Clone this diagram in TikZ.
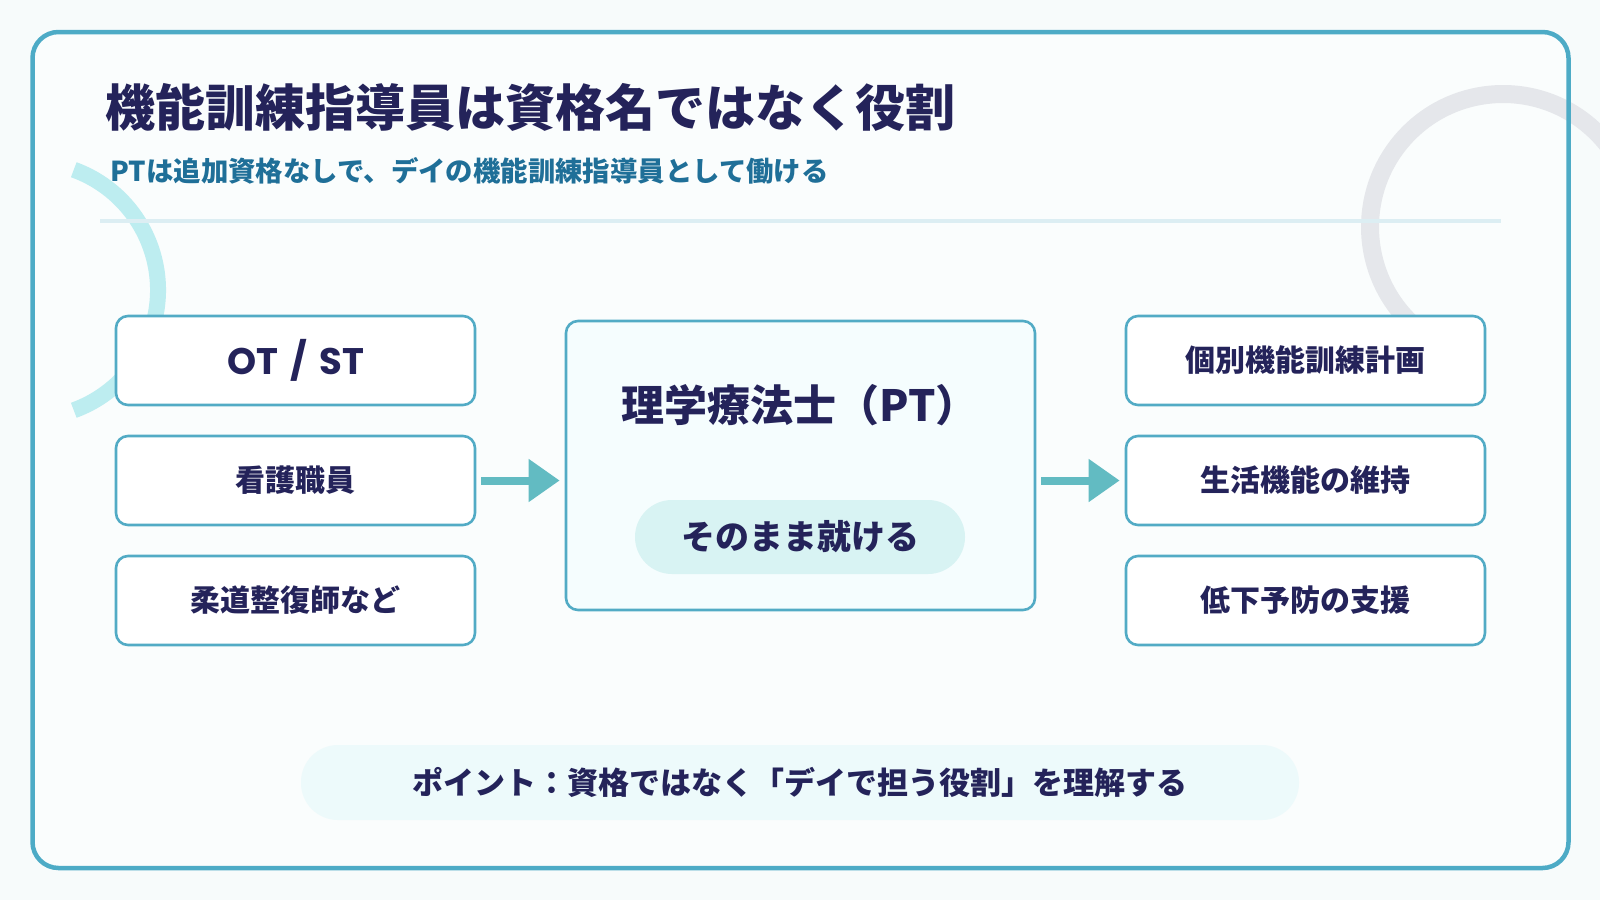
\documentclass[tikz,border=0pt]{standalone}
\usepackage{fontspec}
\setmainfont{Noto Sans CJK JP}[BoldFont={Noto Sans CJK JP Black}]
\newfontfamily\pop{Poppins}
\usetikzlibrary{arrows.meta}
\definecolor{bgc}{HTML}{F7FBFB}
\definecolor{framefill}{HTML}{FAFDFD}
\definecolor{framec}{HTML}{4DABC6}
\definecolor{navy}{HTML}{24235A}
\definecolor{subc}{HTML}{1F6F98}
\definecolor{sepc}{HTML}{DCEEF3}
\definecolor{ringl}{HTML}{BDEDF0}
\definecolor{ringr}{HTML}{E5E7EB}
\definecolor{boxc}{HTML}{52ABC5}
\definecolor{arrowc}{HTML}{62BBC2}
\definecolor{cfill}{HTML}{F5FDFE}
\definecolor{pillc}{HTML}{D8F3F3}
\definecolor{notec}{HTML}{EDFAFB}
\tikzset{
  box/.style={draw=boxc, line width=1.3pt, fill=white, rounded corners=6pt,
    minimum width=179.5pt, minimum height=44.5pt, inner sep=0pt,
    text=navy, font=\bfseries\fontsize{15pt}{18pt}\selectfont},
  cbox/.style={draw=boxc, line width=1.3pt, fill=cfill, rounded corners=6pt,
    minimum width=234.5pt, minimum height=144.5pt, inner sep=0pt},
  pill/.style={fill=pillc, rounded corners=18.5pt, minimum width=165pt,
    minimum height=37pt, inner sep=0pt, text=navy,
    font=\bfseries\fontsize{17pt}{20pt}\selectfont},
  note/.style={fill=notec, rounded corners=18.5pt, minimum width=499pt,
    minimum height=37.5pt, inner sep=0pt, text=navy,
    font=\bfseries\fontsize{15.5pt}{19pt}\selectfont},
  flow/.style={draw=arrowc, line width=4pt, -{Triangle[length=15.5pt, width=20.5pt]}},
  ttl/.style={anchor=west, inner sep=0pt, text=navy, font=\bfseries\fontsize{25pt}{30pt}\selectfont},
  sub/.style={anchor=west, inner sep=0pt, text=subc, font=\bfseries\fontsize{13.7pt}{16pt}\selectfont},
}
\begin{document}
\begin{tikzpicture}[x=0.5pt,y=-0.5pt]
\fill[bgc] (0,0) rectangle (1600,900);
\useasboundingbox (0,0) rectangle (1600,900);
\fill[framefill, rounded corners=13pt] (32.5,32) rectangle (1568.5,868);
% decorative rings
\draw[ringl, line width=8pt] (30,290) ++(-70:128) arc[start angle=-70, end angle=70, radius=128];
\draw[ringr, line width=9pt] (1503,227) ++(132:133) arc[start angle=132, end angle=380, radius=133];
\draw[framec, line width=2.25pt, rounded corners=13pt] (32.5,32) rectangle (1568.5,868);
% header
\node[ttl] (title) at (105,107) {機能訓練指導員は資格名ではなく役割};
\node[sub] (subtitle) at (110,171) {PTは追加資格なしで、デイの機能訓練指導員として働ける};
\draw[sepc, line width=2pt] (100,221) -- (1501,221);
% left boxes
\node[box] (l1) at (295.5,360.5) {\pop\bfseries\fontsize{18.5pt}{22pt}\selectfont OT\hspace{0.12em} / \hspace{0.12em}ST};
\node[box] (l2) at (295.5,480.5) {看護職員};
\node[box] (l3) at (295.5,600.5) {柔道整復師など};
% center
\node[cbox] (c) at (800.5,465.5) {};
\node[inner sep=0pt, text=navy, font=\bfseries\fontsize{21.5pt}{25pt}\selectfont] (ct) at (800,405) {理学療法士（PT）};
\node[pill] (p) at (800,537) {そのまま就ける};
% right boxes
\node[box] (r1) at (1305.5,360.5) {個別機能訓練計画};
\node[box] (r2) at (1305.5,480.5) {生活機能の維持};
\node[box] (r3) at (1305.5,600.5) {低下予防の支援};
% arrows
\draw[flow] ([xshift=2.5pt]l2.east) -- ([xshift=-2.5pt]l2.east -| c.west);
\draw[flow] ([xshift=2.5pt]c.east |- r2.west) -- ([xshift=-2.5pt]r2.west);
% note
\node[note] (n) at (800,782.5) {ポイント：資格ではなく「デイで担う役割」を理解する};
\end{tikzpicture}
\end{document}
